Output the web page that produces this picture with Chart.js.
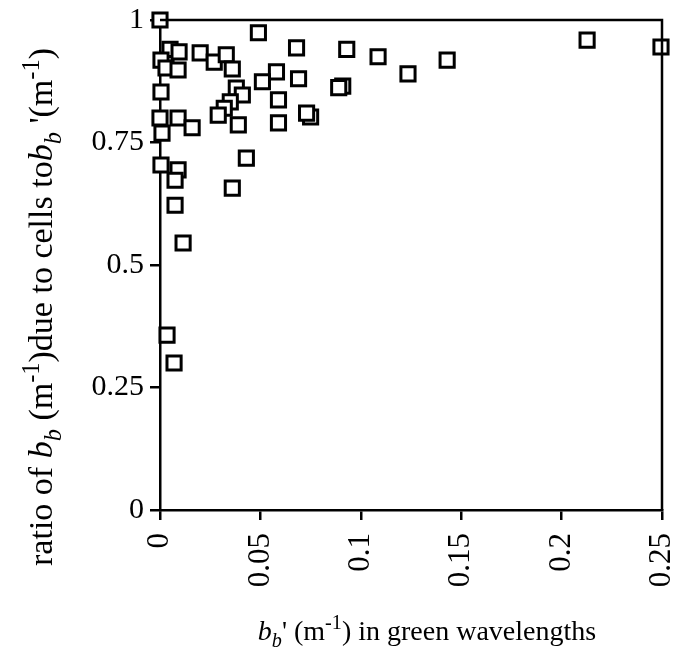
<!DOCTYPE html>
<html>
<head>
<meta charset="utf-8">
<script src="https://cdn.jsdelivr.net/npm/chart.js@4.4.0/dist/chart.umd.min.js"></script>
<style>
  html, body { margin: 0; padding: 0; background: #fff; }
  #wrap { width: 680px; height: 657px; position: relative; }
</style>
</head>
<body>
<div id="wrap"><canvas id="ratio_chart"></canvas></div>
<script>
// bb' in green wavelengths (m^-1)
var bbTotal = [0, 0.049, 0.005, 0.0095, 0.0005, 0.003, 0.009, 0.020, 0.027, 0.033,
               0.036, 0.068, 0.058, 0.069, 0.051, 0.038, 0.041, 0.059, 0.035, 0.032,
               0.029, 0.039, 0.059, 0.075, 0.073, 0.0005, 0, 0.009, 0.016, 0.001,
               0.0005, 0.009, 0.0075, 0.0075, 0.043, 0.036, 0.0115, 0.0035, 0.007, 0.093,
               0.1086, 0.1235, 0.143, 0.2127, 0.2495, 0.091, 0.089];
// ratio of bb due to cells to bb'
var cellRatio = [1.0, 0.974, 0.94, 0.935, 0.918, 0.902, 0.898, 0.933, 0.914, 0.929,
                 0.90, 0.943, 0.894, 0.88, 0.874, 0.861, 0.847, 0.837, 0.833, 0.82,
                 0.806, 0.786, 0.79, 0.802, 0.81, 0.853, 0.80, 0.80, 0.78, 0.769,
                 0.704, 0.694, 0.673, 0.622, 0.718, 0.657, 0.545, 0.357, 0.300, 0.940,
                 0.925, 0.890, 0.918, 0.959, 0.945, 0.865, 0.862];
var xTicks = [0, 0.05, 0.1, 0.15, 0.2, 0.25];
var yTicks = [0, 0.25, 0.5, 0.75, 1];

var FONT = '"Liberation Serif", "DejaVu Serif", serif';

var points = bbTotal.map(function (x, i) { return { x: x, y: cellRatio[i] }; });

// rich text: segments with italic / sub / sup
function drawRich(ctx, segs, size) {
    var total = 0;
    segs.forEach(function (s) {
        var fs = s.sub || s.sup ? size * 0.72 : size;
        ctx.font = (s.it ? 'italic ' : '') + fs + 'px ' + FONT;
        s.w = ctx.measureText(s.t).width;
        s.fs = fs;
        total += s.w;
    });
    var x = -total / 2;
    segs.forEach(function (s) {
        ctx.font = (s.it ? 'italic ' : '') + s.fs + 'px ' + FONT;
        var dy = s.sub ? size * 0.25 : (s.sup ? -size * 0.38 : 0);
        ctx.fillText(s.t, x, dy);
        x += s.w;
    });
}

var yTitle = [
    { t: 'ratio of ' }, { t: 'b', it: true }, { t: 'b', it: true, sub: true },
    { t: ' (m' }, { t: '-1', sup: true }, { t: ')due to cells to' },
    { t: 'b', it: true }, { t: 'b', it: true, sub: true }, { t: " '(m" },
    { t: '-1', sup: true }, { t: ')' }
];
var xTitle = [
    { t: 'b', it: true }, { t: 'b', it: true, sub: true }, { t: "' (m" },
    { t: '-1', sup: true }, { t: ') in green wavelengths' }
];

var framePlugin = {
    id: 'frame',
    afterDraw: function (chart) {
        var ctx = chart.ctx, a = chart.chartArea;
        ctx.save();
        ctx.strokeStyle = '#000';
        ctx.lineWidth = 2.5;
        ctx.beginPath();
        ctx.moveTo(a.left, a.top);
        ctx.lineTo(a.right, a.top);
        ctx.lineTo(a.right, a.bottom);
        ctx.stroke();

        ctx.fillStyle = '#000';
        ctx.textBaseline = 'alphabetic';
        ctx.save();
        ctx.translate(52, 307);
        ctx.rotate(-Math.PI / 2);
        drawRich(ctx, yTitle, 34);
        ctx.restore();

        ctx.save();
        ctx.translate(427, 640);
        drawRich(ctx, xTitle, 28);
        ctx.restore();
        ctx.restore();
    }
};

var ctx = document.getElementById('ratio_chart');
var scatter = new Chart(ctx, {
    type: 'scatter',
    data: {
        datasets: [{
            data: points,
            pointStyle: 'rect',
            pointRadius: 10,
            pointHoverRadius: 10,
            borderColor: '#000',
            backgroundColor: '#fff',
            borderWidth: 3,
            clip: false
        }]
    },
    options: {
        responsive: true,
        maintainAspectRatio: false,
        animation: false,
        layout: { padding: { left: 0, right: 18, top: 20, bottom: 0 } },
        plugins: { legend: { display: false }, tooltip: { enabled: false } },
        scales: {
            x: {
                type: 'linear',
                min: 0, max: 0.25,
                afterBuildTicks: function (s) { s.ticks = xTicks.map(function (v) { return { value: v }; }); },
                afterFit: function (s) { s.height = 147; s.paddingLeft = 0; s.paddingRight = 0; },
                grid: { drawOnChartArea: false, tickLength: 10, color: '#000', lineWidth: 2.5 },
                border: { color: '#000', width: 2.5 },
                ticks: {
                    minRotation: 90, maxRotation: 90, padding: 13,
                    color: '#000', font: { family: FONT, size: 31 },
                    callback: function (v) { return String(v); }
                }
            },
            y: {
                type: 'linear',
                min: 0, max: 1,
                afterBuildTicks: function (s) { s.ticks = yTicks.map(function (v) { return { value: v }; }); },
                afterFit: function (s) { s.width = 160; s.paddingTop = 0; s.paddingBottom = 0; },
                grid: { drawOnChartArea: false, tickLength: 10, color: '#000', lineWidth: 2.5 },
                border: { color: '#000', width: 2.5 },
                ticks: {
                    padding: 6,
                    color: '#000', font: { family: FONT, size: 30 },
                    callback: function (v) { return String(v); }
                }
            }
        }
    },
    plugins: [framePlugin]
});
</script>
</body>
</html>
